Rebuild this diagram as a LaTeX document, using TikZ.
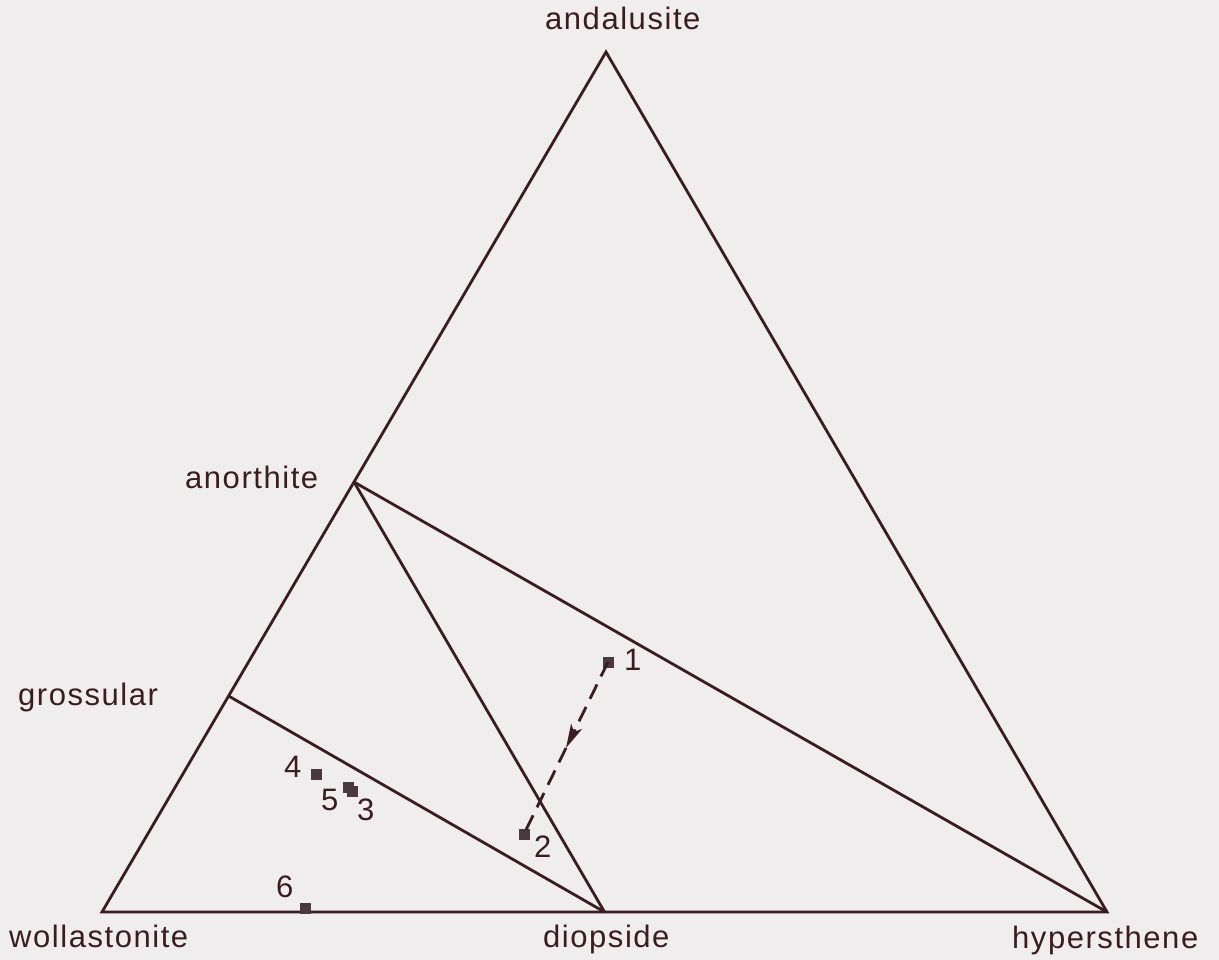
\documentclass[tikz,border=0pt]{standalone}
\usepackage{fontspec}
\setmainfont{Liberation Sans}[LetterSpace=5]
\usetikzlibrary{arrows.meta,calc}
\definecolor{ink}{HTML}{3A1C22}
\definecolor{bg}{HTML}{EFEDEE}
\definecolor{dotc}{HTML}{4A3A3F}
\tikzset{
  edge/.style={draw=ink, line width=2.8pt, line join=miter},
  lbl/.style={inner sep=0pt, anchor=base west, text=ink, font=\fontsize{31}{36}\selectfont},
  sample/.style={draw=none, fill=dotc, minimum size=11pt, inner sep=0pt, rectangle},
  reaction/.style={draw=ink, line width=2.8pt, dash pattern=on 16pt off 9pt},
  headtip/.style={-{Stealth[length=24pt,width=12pt,inset=6pt]}}
}
\begin{document}
\begin{tikzpicture}[x=1pt,y=-1pt]
\fill[bg] (0,0) rectangle (1219,960);
\useasboundingbox (0,0) rectangle (1219,960);
% vertices
\coordinate (A) at (606,52);
\coordinate (W) at (102,912);
\coordinate (H) at (1107,912);
\coordinate (D) at (604.5,912);
\coordinate (N) at (354,482);
\coordinate (G) at (228.6,696);
% triangle and tie lines
\draw[edge] (W) -- (A) -- (H) -- cycle;
\draw[edge] (N) -- (H);
\draw[edge] (N) -- (D);
\draw[edge] (G) -- (D);
% labels
\node[lbl] (lA) at (545,30) {andalusite};
\node[lbl] (lW) at (9,947) {wollastonite};
\node[lbl] (lH) at (1012,948) {hypersthene};
\node[lbl] (lD) at (543,947) {diopside};
\node[lbl] (lG) at (18,705) {grossular};
\node[lbl] (lN) at (185,488) {anorthite};
% samples
\node[sample] (p1) at (608,662) {};
\node[sample] (p2) at (524,834) {};
\node[sample] (p4) at (316,774) {};
\node[sample] (p5) at (348,787) {};
\node[sample] (p3) at (352,791) {};
\node[sample] (p6) at (305,908) {};
\node[lbl] (n1) at (624,670) {1};
\node[lbl] (n2) at (534,857) {2};
\node[lbl] (n4) at (284,777) {4};
\node[lbl] (n5) at (321,810) {5};
\node[lbl] (n3) at (357,820) {3};
\node[lbl] (n6) at (276,897) {6};
% reaction path
\coordinate (m) at ($(p1.center)!0.5!(p2.center)$);
\draw[reaction, headtip] (p1.center) -- (m);
\draw[reaction] (m) -- (p2.center);
\end{tikzpicture}
\end{document}
